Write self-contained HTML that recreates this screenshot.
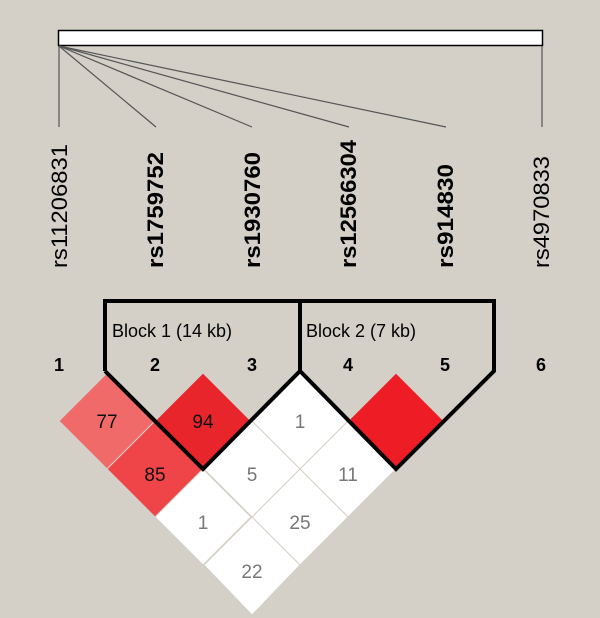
<!DOCTYPE html>
<html><head><meta charset="utf-8"><style>
html,body{margin:0;padding:0;background:#d4d0c8;}
svg{display:block;font-family:"Liberation Sans",sans-serif;}
</style></head><body>
<svg width="600" height="618" viewBox="0 0 600 618">
<rect width="600" height="618" fill="#d4d0c8"/>
<rect x="58.5" y="30.5" width="484" height="15" fill="#fff" stroke="#000" stroke-width="1.5"/>
<g stroke="#555" stroke-width="1.2">
<line x1="59" y1="46" x2="59" y2="127"/>
<line x1="542" y1="46" x2="542" y2="127"/>
<line x1="59" y1="46" x2="156" y2="127"/>
<line x1="59" y1="46" x2="252" y2="127"/>
<line x1="59" y1="46" x2="349" y2="127"/>
<line x1="59" y1="46" x2="446" y2="127"/>
</g>
<g font-size="22" fill="#000">
<text transform="translate(67,268) rotate(-90)" textLength="124" lengthAdjust="spacingAndGlyphs">rs11206831</text>
<text transform="translate(163,268) rotate(-90)" font-weight="bold" textLength="116" lengthAdjust="spacingAndGlyphs">rs1759752</text>
<text transform="translate(260,268) rotate(-90)" font-weight="bold" textLength="116" lengthAdjust="spacingAndGlyphs">rs1930760</text>
<text transform="translate(356,268) rotate(-90)" font-weight="bold" textLength="128" lengthAdjust="spacingAndGlyphs">rs12566304</text>
<text transform="translate(453,268) rotate(-90)" font-weight="bold" textLength="104" lengthAdjust="spacingAndGlyphs">rs914830</text>
<text transform="translate(549,268) rotate(-90)" textLength="112" lengthAdjust="spacingAndGlyphs">rs4970833</text>
</g>
<g font-size="18" font-weight="bold" text-anchor="middle">
<text x="59" y="371">1</text><text x="155" y="371">2</text><text x="252" y="371">3</text>
<text x="348" y="371">4</text><text x="445" y="371">5</text><text x="541" y="371">6</text>
</g>
<g stroke="#d4d0c8" stroke-width="1">
<polygon points="107,373 155,421 107,469 59,421" fill="#f06a6a"/>
<polygon points="203,373 251,421 203,469 155,421" fill="#e8252b"/>
<polygon points="300,373 348,421 300,469 252,421" fill="#fff"/>
<polygon points="396,373 444,421 396,469 348,421" fill="#ee1c25"/>
<polygon points="155,421 203,469 155,517 107,469" fill="#ef4448"/>
<polygon points="252,421 300,469 252,517 204,469" fill="#fff"/>
<polygon points="348,421 396,469 348,517 300,469" fill="#fff"/>
<polygon points="203,469 251,517 203,565 155,517" fill="#fff"/>
<polygon points="300,469 348,517 300,565 252,517" fill="#fff"/>
<polygon points="252,517 300,565 252,615 204,565" fill="#fff"/>
</g>
<g font-size="19" text-anchor="middle" fill="#777">
<text x="107" y="428" fill="#111">77</text>
<text x="203" y="428" fill="#111">94</text>
<text x="300" y="428">1</text>
<text x="155" y="481" fill="#111">85</text>
<text x="252" y="481">5</text>
<text x="348" y="481">11</text>
<text x="203" y="529">1</text>
<text x="300" y="529">25</text>
<text x="252" y="578">22</text>
</g>
<g fill="none" stroke="#000" stroke-width="4" stroke-linejoin="miter">
<polyline points="105,371 105,301 300,301 300,371 203,469 105,371"/>
<polyline points="300,301 494,301 494,371 396,469 300,371"/>
</g>
<g font-size="18" fill="#000">
<text x="112" y="337">Block 1 (14 kb)</text>
<text x="306" y="337">Block 2 (7 kb)</text>
</g>
</svg>
</body></html>
